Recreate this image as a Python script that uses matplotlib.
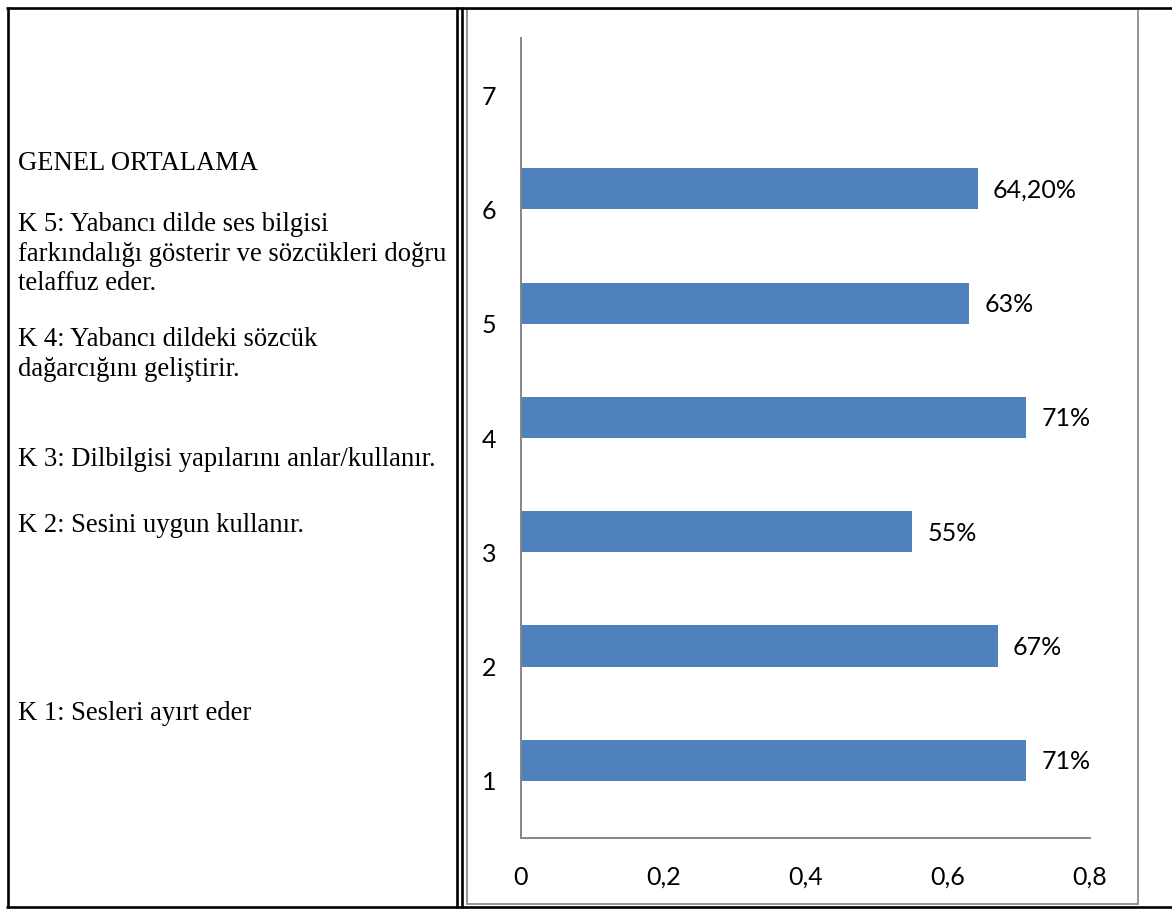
import matplotlib.pyplot as plt
from matplotlib.lines import Line2D
from matplotlib.patches import Rectangle

W, H = 1172, 909

# criteria shown as horizontal bars (share of students meeting each one)
categories = [1, 2, 3, 4, 5, 6, 7]
values = [0.71, 0.67, 0.55, 0.71, 0.63, 0.642]
value_labels = ["71%", "67%", "55%", "71%", "63%", "64,20%"]
x_ticks = [0, 0.2, 0.4, 0.6, 0.8]
x_tick_labels = ["0", "0,2", "0,4", "0,6", "0,8"]

# left column text, one entry per line: (text, y pixel of baseline)
legend_lines = [
    ("GENEL ORTALAMA", 170),
    ("K 5: Yabancı dilde ses bilgisi", 231),
    ("farkındalığı gösterir ve sözcükleri doğru", 261),
    ("telaffuz eder.", 290.5),
    ("K 4: Yabancı dildeki sözcük", 346),
    ("dağarcığını geliştirir.", 376),
    ("K 3: Dilbilgisi yapılarını anlar/kullanır.", 466),
    ("K 2: Sesini uygun kullanır.", 532),
    ("K 1: Sesleri ayırt eder", 720),
]

BAR_COLOR = "#4F81BD"
AXIS_GRAY = "#868686"


def fx(px):
    return px / W


def fy(py):
    return 1 - py / H


fig = plt.figure(figsize=(W / 100, H / 100), dpi=100)
fig.patch.set_facecolor("white")

# table borders
black = dict(color="black", linewidth=1.9, transform=fig.transFigure, solid_capstyle="butt")
fig.add_artist(Line2D([fx(6), 1], [fy(7.5), fy(7.5)], **black))
fig.add_artist(Line2D([fx(6), 1], [fy(906.5), fy(906.5)], **black))
fig.add_artist(Line2D([fx(7.5), fx(7.5)], [fy(6.5), fy(907.5)], **black))
fig.add_artist(Line2D([fx(456.5), fx(456.5)], [fy(6.5), fy(907.5)], **black))
fig.add_artist(Line2D([fx(461.5), fx(461.5)], [fy(6.5), fy(907.5)], **black))

# chart area frame
fig.add_artist(Rectangle((fx(466.5), fy(903.5)), fx(1138) - fx(466.5), (903.5 - 9) / H,
                         transform=fig.transFigure, fill=False, edgecolor="#8C8C8C",
                         linewidth=1.3))

for text, y in legend_lines:
    fig.text(fx(18), fy(y), text, family="Liberation Serif", fontsize=19.2,
             va="baseline", ha="left", color="black")

ax = fig.add_axes([fx(521), fy(838), fx(1090) - fx(521), (838 - 38) / H])
pos = [c + 0.18 for c in categories[:len(values)]]
ax.barh(pos, values, height=0.36, color=BAR_COLOR, zorder=2)

for p, v, lab in zip(pos, values, value_labels):
    ax.annotate(lab, xy=(v, p), xytext=(11, -1), textcoords="offset points",
                va="center", ha="left", family="Lato", fontsize=18, color="black")

ax.set_xlim(0, 0.8)
ax.set_ylim(0.5, 7.5)
ax.set_xticks(x_ticks)
ax.set_xticklabels(x_tick_labels)
ax.set_yticks(categories)
ax.set_yticklabels([str(c) for c in categories])
ax.tick_params(axis="both", length=0, labelsize=18)
ax.tick_params(axis="y", pad=18)
ax.tick_params(axis="x", pad=20)
for lab in ax.get_xticklabels() + ax.get_yticklabels():
    lab.set_family("Lato")

for side in ["top", "right"]:
    ax.spines[side].set_visible(False)
for side in ["left", "bottom"]:
    ax.spines[side].set_color(AXIS_GRAY)
    ax.spines[side].set_linewidth(1.4)
ax.patch.set_alpha(0)

fig.savefig("out.png", dpi=100)
